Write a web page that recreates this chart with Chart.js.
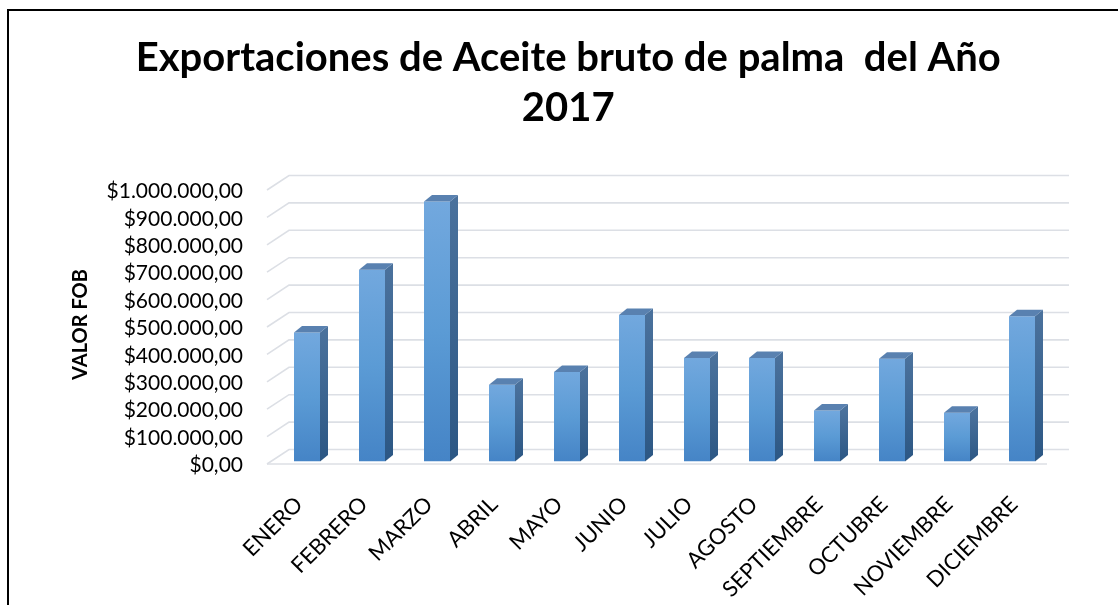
<!DOCTYPE html>
<html>
<head>
<meta charset="utf-8">
<script src="https://cdn.jsdelivr.net/npm/chart.js@4/dist/chart.umd.min.js"></script>
<style>
  body { margin: 0; background: #fff; }
  canvas { display: block; }
</style>
</head>
<body>
<canvas id="exportChart" width="1118" height="605"></canvas>
<script>
// Data
const months = ['ENERO', 'FEBRERO', 'MARZO', 'ABRIL', 'MAYO', 'JUNIO', 'JULIO', 'AGOSTO', 'SEPTIEMBRE', 'OCTUBRE', 'NOVIEMBRE', 'DICIEMBRE'];
const valorFob = [471000, 700000, 949000, 280000, 327000, 535000, 378000, 378000, 186000, 375000, 178000, 530000];
const titleLines = ['Exportaciones de Aceite bruto de palma  del Año', '2017'];
const axisTitle = 'VALOR FOB';

// depth offsets for the fake 3D look
const barDepth = { dx: 8, dy: 6.5 };
const backWall = { dx: 14.5, dy: -12 };
const frontWall = { dx: -7.5, dy: 2.5 };

function formatMoney(v) {
    const s = Math.round(v).toString().replace(/\B(?=(\d{3})+(?!\d))/g, '.');
    return '$' + s + ',00';
}

// frame and 3D walls/grid
const wallsPlugin = {
    id: 'walls',
    beforeDraw(chart) {
        const c = chart.ctx;
        c.save();
        c.fillStyle = '#fff';
        c.fillRect(0, 0, chart.width, chart.height);
        c.strokeStyle = '#000';
        c.lineWidth = 2;
        c.beginPath();
        c.moveTo(8, chart.height + 5);
        c.lineTo(8, 10);
        c.lineTo(chart.width + 5, 10);
        c.stroke();
        c.restore();
    },
    beforeDatasetsDraw(chart) {
        const c = chart.ctx;
        const y = chart.scales.y;
        const area = chart.chartArea;
        c.save();
        c.strokeStyle = '#dcdfe5';
        c.lineWidth = 1.6;
        y.ticks.forEach(t => {
            const py = y.getPixelForValue(t.value);
            c.beginPath();
            c.moveTo(area.left + frontWall.dx, py + frontWall.dy);
            c.lineTo(area.left + backWall.dx, py + backWall.dy);
            c.lineTo(area.right + backWall.dx, py + backWall.dy);
            c.stroke();
        });
        // floor front edge
        const p0 = y.getPixelForValue(0);
        c.beginPath();
        c.moveTo(area.left + frontWall.dx, p0 + frontWall.dy);
        c.lineTo(area.right + frontWall.dx, p0 + frontWall.dy);
        c.stroke();
        c.restore();
    },
    afterDatasetsDraw(chart) {
        const c = chart.ctx;
        const meta = chart.getDatasetMeta(0);
        const { dx, dy } = barDepth;
        c.save();
        meta.data.forEach(bar => {
            const half = bar.width / 2;
            const l = bar.x - half, r = bar.x + half;
            const top = bar.y, base = bar.base;
            // side face
            const g = c.createLinearGradient(0, top, 0, base);
            g.addColorStop(0, '#4a719c');
            g.addColorStop(1, '#2c5784');
            c.fillStyle = g;
            c.beginPath();
            c.moveTo(r, top);
            c.lineTo(r + dx, top - dy);
            c.lineTo(r + dx, base - dy);
            c.lineTo(r, base);
            c.closePath();
            c.fill();
            // top face
            c.fillStyle = '#5981b0';
            c.beginPath();
            c.moveTo(l, top);
            c.lineTo(l + dx, top - dy);
            c.lineTo(r + dx, top - dy);
            c.lineTo(r, top);
            c.closePath();
            c.fill();
        });
        c.restore();
    }
};

const ctx = document.getElementById('exportChart').getContext('2d');

new Chart(ctx, {
    type: 'bar',
    data: {
        labels: months,
        datasets: [{
            label: axisTitle,
            data: valorFob,
            backgroundColor: (context) => {
                const chart = context.chart;
                const ys = chart.scales.y;
                if (!ys || context.raw == null) return '#5b9bd5';
                const top = ys.getPixelForValue(context.raw);
                const base = ys.getPixelForValue(0);
                if (!isFinite(top) || !isFinite(base) || top === base) return '#5b9bd5';
                const g = chart.ctx.createLinearGradient(0, top, 0, base);
                g.addColorStop(0, '#72a8de');
                g.addColorStop(0.5, '#5b9bd5');
                g.addColorStop(1, '#4584c6');
                return g;
            },
            borderWidth: 0,
            barPercentage: 0.4,
            categoryPercentage: 1
        }]
    },
    options: {
        responsive: false,
        animation: false,
        layout: {
            autoPadding: false,
            padding: { left: 82, right: 63.5, top: 0, bottom: 0 }
        },
        plugins: {
            legend: { display: false },
            tooltip: { enabled: false },
            title: {
                display: true,
                text: titleLines,
                color: '#000',
                font: { family: 'Lato', weight: 'bold', size: 40, lineHeight: '50px' },
                padding: { top: 33, bottom: 54.5 }
            }
        },
        scales: {
            x: {
                grid: { display: false, drawTicks: false },
                border: { display: false },
                ticks: {
                    color: '#000',
                    font: { family: 'Lato', size: 22 },
                    minRotation: 45,
                    maxRotation: 45,
                    autoSkip: false,
                    padding: 30,
                    labelOffset: -8
                },
                afterFit: (scale) => { scale.height = 605 - 461.5; }
            },
            y: {
                min: 0,
                max: 1000000,
                grid: { display: false, drawTicks: false },
                border: { display: false },
                ticks: {
                    stepSize: 100000,
                    autoSkip: false,
                    color: '#000',
                    font: { family: 'Lato', size: 21 },
                    padding: 31.5,
                    labelOffset: 4,
                    callback: (v) => formatMoney(v)
                },
                title: {
                    display: true,
                    text: axisTitle,
                    color: '#000',
                    font: { family: 'Lato', weight: 'bold', size: 20 },
                    padding: { top: -13, bottom: 0 }
                },
                afterFit: (scale) => { scale.width = 274.5 - 82; }
            }
        }
    },
    plugins: [wallsPlugin]
});
</script>
</body>
</html>
